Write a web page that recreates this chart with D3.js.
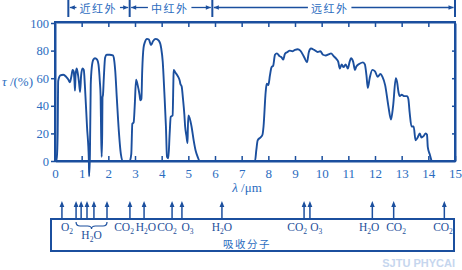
<!DOCTYPE html>
<html>
<head>
<meta charset="utf-8">
<script src="https://cdn.jsdelivr.net/npm/d3@7"></script>
<style>
  body { margin: 0; background: #fff; }
  svg { display: block; }
</style>
</head>
<body>
<script>
'use strict';

// transmittance curve (wavelength in um, tau in %)
const lambda = [0.04, 0.07, 0.10, 0.12, 0.2, 0.31, 0.42, 0.5, 0.56, 0.62, 0.66, 0.7, 0.73, 0.75, 0.77, 0.81, 0.85, 0.9, 0.94, 0.98,
    1.03, 1.08, 1.12, 1.2, 1.27, 1.28, 1.31, 1.34, 1.38, 1.44, 1.5, 1.58, 1.63, 1.68, 1.71, 1.73, 1.75, 1.77, 1.78, 1.8,
    1.83, 1.88, 1.94, 2.05, 2.17, 2.22, 2.26, 2.32, 2.4, 2.47, 2.55, 2.8, 2.86, 2.9, 2.95, 2.99, 3.04, 3.1, 3.17, 3.2,
    3.24, 3.27, 3.32, 3.37, 3.45, 3.52, 3.6, 3.68, 3.78, 3.9, 3.98, 4.04, 4.1, 4.16, 4.2, 4.25, 4.3, 4.34, 4.41, 4.44,
    4.45, 4.52, 4.62, 4.68, 4.7, 4.75, 4.8, 4.85, 4.88, 4.93, 4.97, 4.98, 5.0, 5.05, 5.12, 5.2, 5.28, 5.35, 5.42, 7.5,
    7.55, 7.6, 7.7, 7.78, 7.82, 7.9, 7.94, 8.0, 8.06, 8.12, 8.18, 8.25, 8.32, 8.42, 8.5, 8.56, 8.62, 8.72, 8.8, 8.9,
    9.0, 9.1, 9.2, 9.35, 9.45, 9.52, 9.6, 9.72, 9.85, 9.95, 10.05, 10.15, 10.28, 10.35, 10.45, 10.55, 10.62, 10.68, 10.75, 10.82,
    10.9, 10.98, 11.05, 11.1, 11.18, 11.25, 11.3, 11.42, 11.55, 11.62, 11.68, 11.73, 11.8, 11.9, 12.0, 12.1, 12.2, 12.28, 12.38, 12.5,
    12.6, 12.68, 12.78, 12.83, 12.88, 12.93, 13.0, 13.1, 13.2, 13.25, 13.3, 13.37, 13.45, 13.52, 13.6, 13.68, 13.74, 13.82, 13.9, 13.95,
    13.98, 14.05, 14.12];
const tau = [0, 3, 20, 58, 62, 62.5, 61, 59, 57, 62, 66, 65, 58, 51, 62, 67, 64, 57, 50, 62,
    67, 66, 55, 25, 0, -11, 5, 55, 68, 73.5, 74.5, 73.5, 70, 58, 47, 20, 3, 20, 46, 48,
    60, 75, 77, 77, 76.5, 73, 65, 45, 20, 5, 0, 0, 5, 27, 28, 40, 59, 55, 48, 44,
    45, 65, 82, 86, 88.5, 88, 84, 87, 88.5, 87, 82, 72, 50, 25, 3, 2, 20, 32, 33, 58,
    66, 64, 61, 58, 56, 54, 45, 34, 25, 18, 13, 22, 33, 31, 25, 15, 7, 3, 0, 0,
    8, 15, 17, 19, 25, 50, 56, 55, 62, 68, 69, 77, 78, 76, 75, 73.5, 77.5, 79, 80, 79.5,
    80.5, 81, 80, 75, 71.5, 79, 81.5, 80.5, 79, 79.5, 77, 76.5, 77.5, 78, 76, 74, 72, 67, 70, 68,
    70, 67, 72, 74.5, 72, 66, 68.5, 70.5, 71.5, 70, 62, 53, 60, 66, 65, 61, 63, 61, 55, 40,
    30, 40, 60, 57, 50, 47, 48, 47, 47, 45, 35, 25, 25, 15, 17, 20, 17, 18, 20, 19,
    10, 5, 0];

const xTicks = [0, 1, 2, 3, 4, 5, 6, 7, 8, 9, 10, 11, 12, 13, 14, 15];
const yTicks = [0, 20, 40, 60, 80, 100];

// spectral bands across the top
const bandNames = ["近红外", "中红外", "远红外"];
const bandEdges = [0.5, 2.8, 5.9, 15];
const bandTextLam = [1.62, 4.3, 10.3];

// absorbing molecules
const arrowLam = [0.26, 0.79, 0.98, 1.2, 1.46, 1.95, 2.81, 3.34, 4.39, 4.76, 6.26, 9.34, 9.56, 11.9, 12.7, 14.6];
const molNames = ["O2", "CO2", "H2O", "CO2", "O3", "H2O", "CO2", "O3", "H2O", "CO2", "CO2"];
const molLam = [0.45, 2.59, 3.41, 4.2, 4.97, 6.26, 9.08, 9.8, 11.78, 12.79, 14.55];
const braceLam = [0.79, 1.95];   // H2O group under the brace
const braceName = "H2O";

const W = 462, H = 270;
const blue = "#1b4f9e";
const textBlue = "#2b6cc0";

const svg = d3.select("body").append("svg")
    .attr("width", W)
    .attr("height", H);

const x = d3.scaleLinear().domain([0, 15]).range([55, 455]);
const y = d3.scaleLinear().domain([0, 100]).range([161, 23]);

// frame
svg.append("rect")
    .attr("x", x(0)).attr("y", 22)
    .attr("width", x(15) - x(0)).attr("height", y(0) - 22)
    .attr("fill", "none").attr("stroke", blue).attr("stroke-width", 2);

// bottom axis with ticks inside
const xAxis = d3.axisBottom(x).tickValues(xTicks).tickSize(-5).tickPadding(8).tickSizeOuter(0);
const gx = svg.append("g").attr("transform", "translate(0," + y(0) + ")").call(xAxis);
// top ticks, also inside
const gxt = svg.append("g").attr("transform", "translate(0,22)")
    .call(d3.axisTop(x).tickValues(xTicks.slice(1, -1)).tickSize(-5).tickFormat("").tickSizeOuter(0));
// left axis, ticks outside
const gy = svg.append("g").attr("transform", "translate(" + x(0) + ",0)")
    .call(d3.axisLeft(y).tickValues(yTicks).tickSize(4).tickPadding(2).tickSizeOuter(0));
// right ticks, inside
const gyr = svg.append("g").attr("transform", "translate(" + x(15) + ",0)")
    .call(d3.axisRight(y).tickValues(yTicks.slice(1, -1)).tickSize(-3).tickFormat("").tickSizeOuter(0));

[gx, gxt, gy, gyr].forEach(g => {
    g.select(".domain").attr("stroke", blue).attr("stroke-width", 2);
    g.selectAll(".tick line").attr("stroke", blue).attr("stroke-width", 1.5);
    g.selectAll(".tick text")
        .attr("fill", textBlue)
        .attr("font-family", "Liberation Serif")
        .attr("font-size", 13);
});
gy.selectAll(".tick text").attr("font-size", 12.5);

// axis titles
const yTitle = svg.append("text")
    .attr("x", 2).attr("y", 86)
    .attr("fill", textBlue)
    .attr("font-family", "Liberation Serif")
    .attr("font-size", 13);
yTitle.append("tspan").attr("font-style", "italic").text("τ");
yTitle.append("tspan").text(" /(%)");

const xTitle = svg.append("text")
    .attr("x", 247).attr("y", 192)
    .attr("text-anchor", "middle")
    .attr("fill", textBlue)
    .attr("font-family", "Liberation Serif")
    .attr("font-size", 13);
xTitle.append("tspan").attr("font-style", "italic").text("λ");
xTitle.append("tspan").text(" /μm");

// the curve
const pts = lambda.map((l, i) => [l, tau[i]]);
const line = d3.line()
    .x(d => x(d[0]))
    .y(d => y(d[1]))
    .curve(d3.curveMonotoneX);
svg.append("path")
    .datum(pts)
    .attr("d", line)
    .attr("fill", "none")
    .attr("stroke", blue)
    .attr("stroke-width", 1.9)
    .attr("stroke-linejoin", "round");

// band markers across the top
const bandY = 7.5;
const arrowHead = (px, dir) =>
    "M" + px + "," + bandY + "L" + (px - dir * 5) + "," + (bandY - 2.2) + "L" + (px - dir * 5) + "," + (bandY + 2.2) + "Z";

bandEdges.forEach(l => {
    svg.append("line")
        .attr("x1", x(l)).attr("x2", x(l))
        .attr("y1", 0).attr("y2", 17)
        .attr("stroke", blue).attr("stroke-width", 2);
});
bandNames.forEach((name, i) => {
    const x0 = x(bandEdges[i]) + 1.5, x1 = x(bandEdges[i + 1]) - 1.5;
    const cx = x(bandTextLam[i]);
    const t = svg.append("text")
        .attr("x", cx).attr("y", 12.5)
        .attr("text-anchor", "middle")
        .attr("fill", textBlue)
        .attr("font-family", "Noto Sans CJK SC")
        .attr("font-size", 11)
        .attr("letter-spacing", 1.5)
        .text(name);
    const half = t.node().getComputedTextLength() / 2 + 3;
    svg.append("line").attr("x1", x0).attr("x2", cx - half)
        .attr("y1", bandY).attr("y2", bandY).attr("stroke", blue).attr("stroke-width", 1.3);
    svg.append("line").attr("x1", cx + half).attr("x2", x1)
        .attr("y1", bandY).attr("y2", bandY).attr("stroke", blue).attr("stroke-width", 1.3);
    svg.append("path").attr("d", arrowHead(x0, -1)).attr("fill", blue);
    svg.append("path").attr("d", arrowHead(x1, 1)).attr("fill", blue);
});

// absorbing molecule panel
svg.append("rect")
    .attr("x", 51).attr("y", 219)
    .attr("width", 403).attr("height", 32)
    .attr("fill", "none").attr("stroke", blue).attr("stroke-width", 2);

svg.selectAll(".absArrow")
    .data(arrowLam)
    .enter()
    .append("line")
        .attr("class", "absArrow")
        .attr("x1", d => x(d)).attr("x2", d => x(d))
        .attr("y1", 219).attr("y2", 206)
        .attr("stroke", blue).attr("stroke-width", 1.5);
svg.selectAll(".absHead")
    .data(arrowLam)
    .enter()
    .append("path")
        .attr("class", "absHead")
        .attr("d", d => "M" + x(d) + ",201L" + (x(d) - 2.4) + ",207L" + (x(d) + 2.4) + ",207Z")
        .attr("fill", blue);

// chemical formula with subscripts
function chem(sel, s) {
    let low = false;
    s.split(/(\d)/).filter(p => p).forEach(p => {
        const isNum = /\d/.test(p);
        const ts = sel.append("tspan").text(p);
        if (isNum && !low) { ts.attr("dy", 3).attr("font-size", 7.5); low = true; }
        else if (isNum) { ts.attr("font-size", 7.5); }
        else if (low) { ts.attr("dy", -3); low = false; }
    });
}

molNames.forEach((m, i) => {
    const t = svg.append("text")
        .attr("x", x(molLam[i])).attr("y", 230.5)
        .attr("text-anchor", "middle")
        .attr("fill", "#1d4f9a")
        .attr("font-family", "Liberation Serif")
        .attr("font-size", 11.5);
    chem(t, m);
});

// brace over the H2O group
const bx0 = x(braceLam[0]), bx1 = x(braceLam[1]), bm = (bx0 + bx1) / 2;
svg.append("path")
    .attr("d", "M" + bx0 + ",222Q" + bx0 + ",226 " + (bx0 + 4) + ",226L" + (bm - 4) + ",226Q" + bm + ",226 " + bm + ",229" +
        "Q" + bm + ",226 " + (bm + 4) + ",226L" + (bx1 - 4) + ",226Q" + bx1 + ",226 " + bx1 + ",222")
    .attr("fill", "none").attr("stroke", blue).attr("stroke-width", 1.2);
const bt = svg.append("text")
    .attr("x", bm).attr("y", 239)
    .attr("text-anchor", "middle")
    .attr("fill", "#1d4f9a")
    .attr("font-family", "Liberation Serif")
    .attr("font-size", 11.5);
chem(bt, braceName);

svg.append("text")
    .attr("x", 247).attr("y", 248)
    .attr("text-anchor", "middle")
    .attr("fill", textBlue)
    .attr("font-family", "Noto Sans CJK SC")
    .attr("font-size", 10.5)
    .attr("letter-spacing", 1.5)
    .text("吸收分子");

// watermark
svg.append("text")
    .attr("x", 455).attr("y", 267)
    .attr("text-anchor", "end")
    .attr("fill", "#c6d6ee")
    .attr("font-family", "Liberation Sans")
    .attr("font-weight", "bold")
    .attr("font-size", 11)
    .text("SJTU PHYCAI");
</script>
</body>
</html>
